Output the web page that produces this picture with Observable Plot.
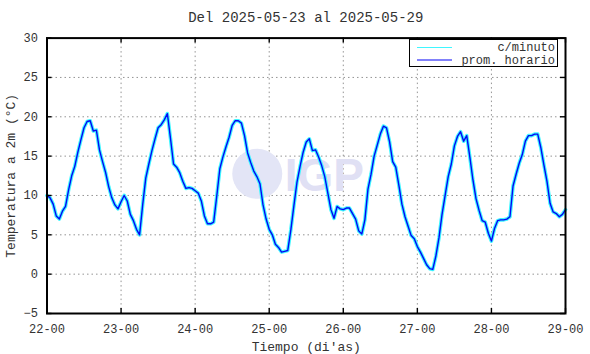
<!DOCTYPE html>
<html>
<head>
<meta charset="utf-8">
<script src="https://cdn.jsdelivr.net/npm/d3@7"></script>
<script src="https://cdn.jsdelivr.net/npm/@observablehq/plot@0.6"></script>
<style>
  html, body { margin: 0; padding: 0; background: #fff; }
  #wrap { position: relative; width: 590px; height: 354px; font-family: "Liberation Mono", "DejaVu Sans Mono", monospace; }
  #title { position: absolute; left: 46.5px; width: 518.5px; top: 11px; text-align: center; font-size: 14px; line-height: 14px; color: #333; }
  #chart { position: absolute; left: 0; top: 0; }
  #legend { position: absolute; left: 409px; top: 39px; }
</style>
</head>
<body>
<div id="wrap">
  <div id="chart"></div>
  <div id="title">Del 2025-05-23 al 2025-05-29</div>
  <div id="legend"></div>
</div>
<script>
// Hours since 22-00 (hourly averages)
const hours = d3.range(0, 169);
// Hourly average temperature (°C)
const temps = [
  10.0, 9.7, 8.9, 7.4, 7.0, 8.0, 8.6, 10.7, 12.5, 13.7, 15.5, 17.1, 18.6, 19.4, 19.5, 18.2, 18.3, 15.8, 14.3, 12.9, 11.1, 9.7, 8.8, 8.3,
  9.2, 10.0, 9.3, 7.6, 6.8, 5.7, 5.0, 8.8, 12.2, 14.0, 15.7, 17.2, 18.6, 19.0, 19.6, 20.4, 17.3, 14.0, 13.6, 12.9, 11.8, 10.9, 11.0, 10.9,
  10.6, 10.3, 9.3, 7.4, 6.4, 6.4, 6.6, 9.9, 13.4, 14.9, 16.2, 17.4, 18.9, 19.5, 19.5, 19.2, 17.6, 15.4, 14.2, 13.1, 12.4, 11.5, 8.8, 7.0,
  5.7, 5.0, 3.8, 3.4, 2.8, 2.9, 3.0, 5.6, 8.7, 11.7, 13.7, 15.5, 16.8, 17.2, 15.7, 15.8, 14.9, 13.8, 12.4, 10.3, 8.2, 7.1, 8.6, 8.3,
  8.2, 8.4, 8.4, 7.7, 7.0, 5.5, 5.1, 6.9, 10.8, 12.7, 15.0, 16.4, 17.8, 18.8, 18.6, 16.8, 14.3, 13.6, 11.3, 8.9, 7.3, 6.1, 4.9, 4.5,
  3.5, 2.8, 2.0, 1.2, 0.7, 0.6, 2.3, 4.6, 7.6, 10.0, 12.4, 14.0, 16.3, 17.5, 18.1, 16.9, 17.6, 14.9, 12.0, 9.6, 8.1, 6.8, 6.6, 5.2,
  4.2, 5.8, 6.8, 6.9, 6.9, 7.0, 7.3, 11.2, 12.7, 14.1, 15.2, 16.9, 17.6, 17.6, 17.8, 17.8, 16.1, 13.9, 11.8, 9.0, 7.9, 7.7, 7.3, 7.6,
  8.2
];
const xTicks = [0, 24, 48, 72, 96, 120, 144, 168];
const xTickLabels = ["22-00", "23-00", "24-00", "25-00", "26-00", "27-00", "28-00", "29-00"];
const yTicks = [-5, 0, 5, 10, 15, 20, 25, 30];
const seriesNames = ["c/minuto", "prom. horario"];
const seriesColors = ["#3ff6ff", "#0505f5"];

const data = hours.map((h, i) => ({h, t: temps[i]}));
const font = "Liberation Mono, DejaVu Sans Mono, monospace";

const W = 590, H = 354, mT = 37.6, mB = 41, mL = 46.5, mR = 25;
const frameW = W - mL - mR, frameH = H - mT - mB, tk = 5;
const tickMark = {stroke: "black", strokeWidth: 1.4};

const chart = Plot.plot({
  width: W,
  height: H,
  marginTop: mT,
  marginBottom: mB,
  marginLeft: mL,
  marginRight: mR,
  style: {fontFamily: font, background: "transparent", color: "#333"},
  x: {domain: [0, 168]},
  y: {domain: [-5, 30]},
  marks: [
    Plot.gridY(yTicks.slice(1, -1), {stroke: "#888", strokeOpacity: 0.9, strokeDasharray: "1.5,3"}),
    Plot.gridX(xTicks.slice(1, -1), {stroke: "#888", strokeOpacity: 0.9, strokeDasharray: "1.5,3"}),
    Plot.dot([0], {frameAnchor: "middle", dx: -49, dy: -2, r: 25, fill: "#e3e5f6", stroke: null}),
    Plot.text(["IGP"], {text: d => d, frameAnchor: "middle", dx: 18, dy: 0, fontSize: 46, fontWeight: "bold", fontFamily: "Liberation Sans, Arial, sans-serif", fill: "#e0e0f4"}),
    Plot.line(data, {x: "h", y: "t", stroke: seriesColors[0], strokeWidth: 3.6}),
    Plot.line(data, {x: "h", y: "t", stroke: seriesColors[1], strokeWidth: 1.4}),
    Plot.axisX(xTicks, {anchor: "bottom", tickSize: 0, tickPadding: 11, fontSize: 12, fill: "#333",
      tickFormat: d => xTickLabels[xTicks.indexOf(d)], label: "Tiempo (di'as)", labelAnchor: "center", labelOffset: 37, labelArrow: "none"}),
    Plot.axisY(yTicks, {anchor: "left", tickSize: 0, tickPadding: 9, fontSize: 12, fill: "#333",
      label: "Temperatura a 2m (°C)", labelAnchor: "center", labelOffset: 41, labelArrow: "none"}),
    // inward tick marks on all four sides
    Plot.tickX(xTicks, {x: d => d, insetBottom: frameH - tk, ...tickMark}),
    Plot.tickX(xTicks, {x: d => d, insetTop: frameH - tk, ...tickMark}),
    Plot.tickY(yTicks, {y: d => d, insetRight: frameW - tk, ...tickMark}),
    Plot.tickY(yTicks, {y: d => d, insetLeft: frameW - tk, ...tickMark}),
    Plot.frame({stroke: "black", strokeWidth: 2})
  ]
});
chart.querySelectorAll("[aria-label='x-axis label'] text, [aria-label='y-axis label'] text").forEach(t => { t.setAttribute("font-size", "13"); });
document.getElementById("chart").appendChild(chart);

// Legend box (inside the plot, top-right)
const lg = d3.select("#legend").append("svg").attr("width", 150).attr("height", 30)
  .style("font-family", font);
lg.append("rect").attr("x", 0.5).attr("y", 0.5).attr("width", 148).attr("height", 27)
  .attr("fill", "white").attr("stroke", "black");
seriesNames.forEach((name, i) => {
  const y = 8.5 + i * 12.5;
  lg.append("line").attr("x1", 8).attr("x2", 43).attr("y1", y).attr("y2", y)
    .attr("stroke", seriesColors[i]).attr("stroke-width", 1.2);
  lg.append("text").attr("x", 146).attr("y", y + 3.5).attr("text-anchor", "end")
    .attr("font-size", 12).attr("fill", "#333").text(name);
});
</script>
</body>
</html>
